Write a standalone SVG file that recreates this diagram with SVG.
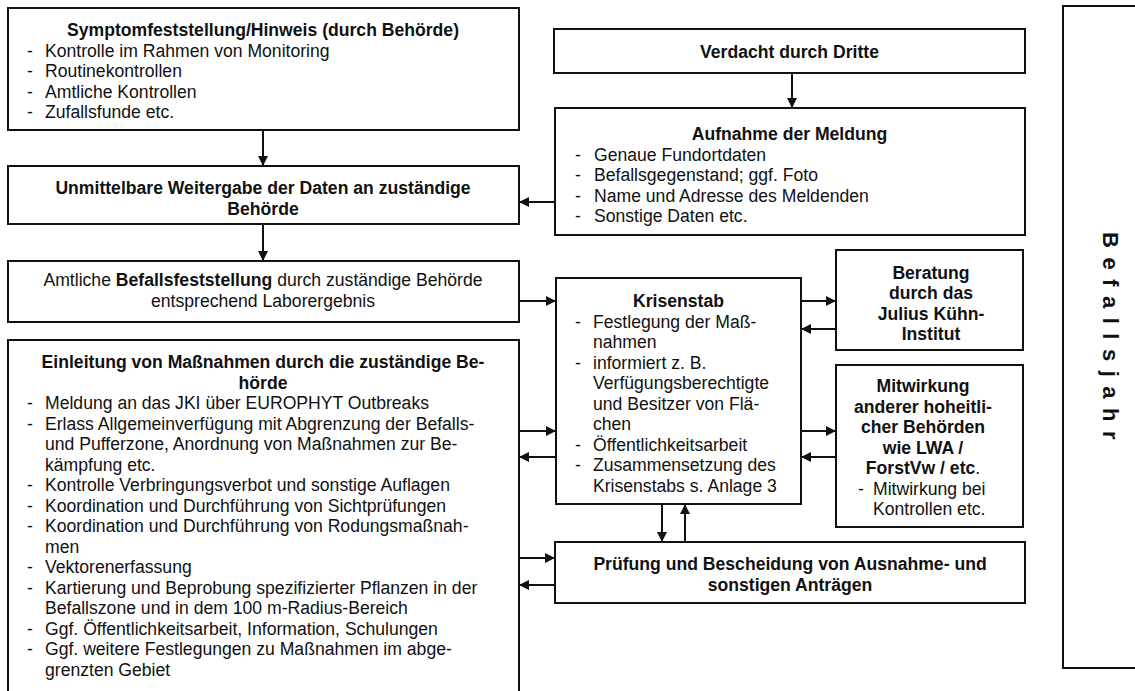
<svg xmlns="http://www.w3.org/2000/svg" width="1135" height="691" viewBox="0 0 1135 691">
<defs>
<marker id="ah" markerUnits="userSpaceOnUse" markerWidth="11" markerHeight="10" refX="10" refY="5" orient="auto">
<path d="M0,0 L10,5 L0,10 z" fill="#111"/>
</marker>
<style>
.box{fill:#fff;stroke:#111;stroke-width:2}
.t{font-family:"Liberation Sans",Arial,sans-serif;font-size:17.6px;fill:#111}
.b{font-weight:bold}
.c{text-anchor:middle}
.con line{stroke:#111;stroke-width:2;marker-end:url(#ah)}
</style>
</defs>
<rect width="1135" height="691" fill="#fff"/>

<g id="symptom">
<rect class="box" x="8" y="8" width="511" height="122"/>
<text class="t b c" x="263" y="36">Symptomfeststellung/Hinweis (durch Behörde)</text>
<text class="t" x="27" y="56.5">-</text><text class="t" x="45" y="56.5">Kontrolle im Rahmen von Monitoring</text>
<text class="t" x="27" y="77">-</text><text class="t" x="45" y="77">Routinekontrollen</text>
<text class="t" x="27" y="97.5">-</text><text class="t" x="45" y="97.5">Amtliche Kontrollen</text>
<text class="t" x="27" y="118">-</text><text class="t" x="45" y="118">Zufallsfunde etc.</text>
</g>

<g id="weitergabe">
<rect class="box" x="8" y="166" width="511" height="58"/>
<text class="t b c" x="263" y="194">Unmittelbare Weitergabe der Daten an zuständige</text>
<text class="t b c" x="263" y="214.5">Behörde</text>
</g>

<g id="befallsfeststellung">
<rect class="box" x="8" y="261" width="511" height="61"/>
<text class="t c" x="263" y="286">Amtliche <tspan class="b">Befallsfeststellung</tspan> durch zuständige Behörde</text>
<text class="t c" x="263" y="306.5">entsprechend Laborergebnis</text>
</g>

<g id="einleitung">
<rect class="box" x="8" y="340" width="511" height="370"/>
<text class="t b c" x="263" y="368">Einleitung von Maßnahmen durch die zuständige Be-</text>
<text class="t b c" x="263" y="388.5">hörde</text>
<text class="t" x="27" y="409">-</text><text class="t" x="45" y="409">Meldung an das JKI über EUROPHYT Outbreaks</text>
<text class="t" x="27" y="429.5">-</text><text class="t" x="45" y="429.5">Erlass Allgemeinverfügung mit Abgrenzung der Befalls-</text>
<text class="t" x="45" y="450">und Pufferzone, Anordnung von Maßnahmen zur Be-</text>
<text class="t" x="45" y="470.5">kämpfung etc.</text>
<text class="t" x="27" y="491">-</text><text class="t" x="45" y="491">Kontrolle Verbringungsverbot und sonstige Auflagen</text>
<text class="t" x="27" y="511.5">-</text><text class="t" x="45" y="511.5">Koordination und Durchführung von Sichtprüfungen</text>
<text class="t" x="27" y="532">-</text><text class="t" x="45" y="532">Koordination und Durchführung von Rodungsmaßnah-</text>
<text class="t" x="45" y="552.5">men</text>
<text class="t" x="27" y="573">-</text><text class="t" x="45" y="573">Vektorenerfassung</text>
<text class="t" x="27" y="593.5">-</text><text class="t" x="45" y="593.5">Kartierung und Beprobung spezifizierter Pflanzen in der</text>
<text class="t" x="45" y="614">Befallszone und in dem 100 m-Radius-Bereich</text>
<text class="t" x="27" y="634.5">-</text><text class="t" x="45" y="634.5">Ggf. Öffentlichkeitsarbeit, Information, Schulungen</text>
<text class="t" x="27" y="655">-</text><text class="t" x="45" y="655">Ggf. weitere Festlegungen zu Maßnahmen im abge-</text>
<text class="t" x="45" y="675.5">grenzten Gebiet</text>
</g>

<g id="verdacht">
<rect class="box" x="554" y="29" width="471" height="44"/>
<text class="t b c" x="789.5" y="57.5">Verdacht durch Dritte</text>
</g>

<g id="aufnahme">
<rect class="box" x="555" y="108" width="470" height="127"/>
<text class="t b c" x="789.5" y="140">Aufnahme der Meldung</text>
<text class="t" x="575" y="160.5">-</text><text class="t" x="594" y="160.5">Genaue Fundortdaten</text>
<text class="t" x="575" y="181">-</text><text class="t" x="594" y="181">Befallsgegenstand; ggf. Foto</text>
<text class="t" x="575" y="201.5">-</text><text class="t" x="594" y="201.5">Name und Adresse des Meldenden</text>
<text class="t" x="575" y="222">-</text><text class="t" x="594" y="222">Sonstige Daten etc.</text>
</g>

<g id="krisenstab">
<rect class="box" x="556" y="278" width="245" height="226"/>
<text class="t b c" x="678.5" y="307">Krisenstab</text>
<text class="t" x="575" y="327.5">-</text><text class="t" x="593" y="327.5">Festlegung der Maß-</text>
<text class="t" x="593" y="348">nahmen</text>
<text class="t" x="575" y="368.5">-</text><text class="t" x="593" y="368.5">informiert z. B.</text>
<text class="t" x="593" y="389">Verfügungsberechtigte</text>
<text class="t" x="593" y="409.5">und Besitzer von Flä-</text>
<text class="t" x="593" y="430">chen</text>
<text class="t" x="575" y="450.5">-</text><text class="t" x="593" y="450.5">Öffentlichkeitsarbeit</text>
<text class="t" x="575" y="471">-</text><text class="t" x="593" y="471">Zusammensetzung des</text>
<text class="t" x="593" y="491.5">Krisenstabs s. Anlage 3</text>
</g>

<g id="beratung">
<rect class="box" x="836" y="250" width="187" height="100"/>
<text class="t b c" x="931" y="278.5">Beratung</text>
<text class="t b c" x="931" y="299">durch das</text>
<text class="t b c" x="931" y="319.5">Julius Kühn-</text>
<text class="t b c" x="931" y="340">Institut</text>
</g>

<g id="mitwirkung">
<rect class="box" x="836" y="365" width="187" height="162"/>
<text class="t b c" x="923" y="392">Mitwirkung</text>
<text class="t b c" x="923" y="412.5">anderer hoheitli-</text>
<text class="t b c" x="923" y="433">cher Behörden</text>
<text class="t b c" x="923" y="453.5">wie LWA /</text>
<text class="t c" x="923" y="474"><tspan class="b">ForstVw / etc</tspan>.</text>
<text class="t" x="858" y="494.5">-</text><text class="t" x="873" y="494.5">Mitwirkung bei</text>
<text class="t" x="873" y="515">Kontrollen etc.</text>
</g>

<g id="pruefung">
<rect class="box" x="555" y="542" width="470" height="61"/>
<text class="t b c" x="790" y="570">Prüfung und Bescheidung von Ausnahme- und</text>
<text class="t b c" x="790" y="590.5">sonstigen Anträgen</text>
</g>

<g id="befallsjahr">
<rect class="box" x="1063" y="6" width="90" height="662"/>
<text class="t b" x="0" y="0" transform="translate(1103,232) rotate(90)" style="font-size:22px;letter-spacing:9.5px">Befallsjahr</text>
</g>

<g id="connectors" class="con">
<line x1="263" y1="130" x2="263" y2="166"/>
<line x1="263" y1="224" x2="263" y2="261"/>
<line x1="792" y1="73" x2="792" y2="108"/>
<line x1="555" y1="202" x2="519" y2="202"/>
<line x1="519" y1="301" x2="556" y2="301"/>
<line x1="801" y1="301" x2="836" y2="301"/>
<line x1="836" y1="329" x2="801" y2="329"/>
<line x1="519" y1="431" x2="556" y2="431"/>
<line x1="556" y1="457" x2="519" y2="457"/>
<line x1="801" y1="431" x2="836" y2="431"/>
<line x1="836" y1="457" x2="801" y2="457"/>
<line x1="519" y1="558" x2="555" y2="558"/>
<line x1="555" y1="585" x2="519" y2="585"/>
<line x1="662" y1="504" x2="662" y2="542"/>
<line x1="685" y1="542" x2="685" y2="504"/>
</g>
</svg>
